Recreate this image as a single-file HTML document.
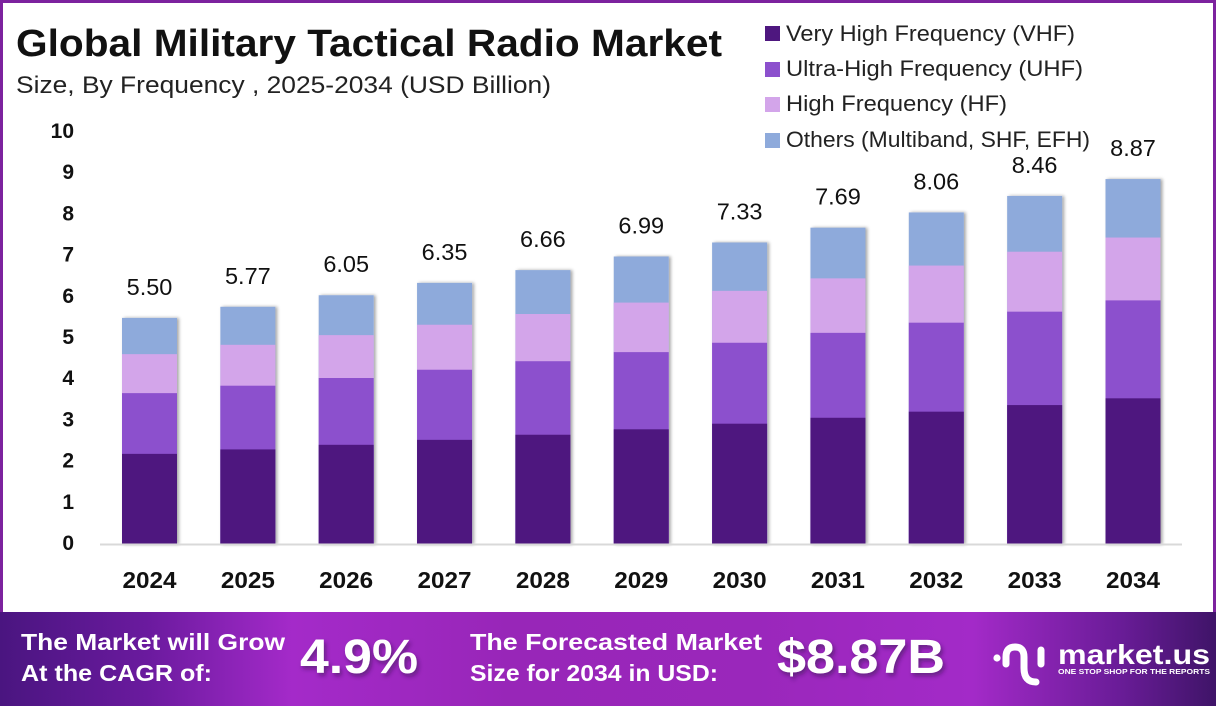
<!DOCTYPE html>
<html><head><meta charset="utf-8"><style>
html,body{margin:0;padding:0;background:#fff;}
svg{display:block;}
</style></head><body>
<svg width="1216" height="706" viewBox="0 0 1216 706" xmlns="http://www.w3.org/2000/svg">
<defs>
<filter id="sh" x="-20%" y="-5%" width="140%" height="110%">
<feDropShadow dx="2" dy="0" stdDeviation="1.6" flood-color="#000" flood-opacity="0.35"/>
</filter>
<filter id="tsh" x="-10%" y="-20%" width="130%" height="150%">
<feDropShadow dx="2" dy="3" stdDeviation="2" flood-color="#2a0a40" flood-opacity="0.5"/>
</filter>
<linearGradient id="ban" x1="0" y1="0" x2="1" y2="0">
<stop offset="0" stop-color="#4a1580"/>
<stop offset="0.12" stop-color="#6a1a9e"/>
<stop offset="0.24" stop-color="#a42ac9"/>
<stop offset="0.42" stop-color="#9826b8"/>
<stop offset="0.62" stop-color="#9a27bb"/>
<stop offset="0.80" stop-color="#a32ac8"/>
<stop offset="0.92" stop-color="#6a1c98"/>
<stop offset="1" stop-color="#3f1468"/>
</linearGradient>
</defs>
<rect x="0" y="0" width="1216" height="706" fill="#fff"/>
<!-- frame -->
<rect x="0" y="0" width="1216" height="3" fill="#7c229e"/>
<rect x="0" y="0" width="3" height="612" fill="#7c229e"/>
<rect x="1213" y="0" width="3" height="612" fill="#7c229e"/>

<!-- title -->
<text x="16" y="56" font-family="Liberation Sans, sans-serif" font-weight="bold" font-size="38" fill="#111" textLength="706" lengthAdjust="spacingAndGlyphs">Global Military Tactical Radio Market</text>
<text x="16" y="93" font-family="Liberation Sans, sans-serif" font-size="24" fill="#222" textLength="535" lengthAdjust="spacingAndGlyphs">Size, By Frequency , 2025-2034 (USD Billion)</text>

<!-- legend -->
<g font-family="Liberation Sans, sans-serif" font-size="22" fill="#222">
<rect x="765" y="26" width="15" height="15" fill="#4e177f"/>
<text x="786" y="41" textLength="289" lengthAdjust="spacingAndGlyphs">Very High Frequency (VHF)</text>
<rect x="765" y="62" width="15" height="15" fill="#8c50cd"/>
<text x="786" y="76" textLength="297" lengthAdjust="spacingAndGlyphs">Ultra-High Frequency (UHF)</text>
<rect x="765" y="97" width="15" height="15" fill="#d3a5ea"/>
<text x="786" y="111" textLength="221" lengthAdjust="spacingAndGlyphs">High Frequency (HF)</text>
<rect x="765" y="133" width="15" height="15" fill="#8eaadb"/>
<text x="786" y="147" textLength="304" lengthAdjust="spacingAndGlyphs">Others (Multiband, SHF, EFH)</text>
</g>

<!-- y axis labels -->
<g font-family="Liberation Sans, sans-serif" font-weight="bold" font-size="21" fill="#111" text-anchor="end">
<text x="74" y="138">10</text>
<text x="74" y="179.2">9</text>
<text x="74" y="220.4">8</text>
<text x="74" y="261.6">7</text>
<text x="74" y="302.8">6</text>
<text x="74" y="344">5</text>
<text x="74" y="385.2">4</text>
<text x="74" y="426.4">3</text>
<text x="74" y="467.6">2</text>
<text x="74" y="508.8">1</text>
<text x="74" y="550">0</text>
</g>

<!-- bars -->
<g>
<g><rect x="122" y="317.9" width="55" height="226.6" fill="#8eaadb" filter="url(#sh)"/><rect x="122" y="354.16" width="55" height="190.34" fill="#d3a5ea"/><rect x="122" y="393.13" width="55" height="151.37" fill="#8c50cd"/><rect x="122" y="453.86" width="55" height="90.64" fill="#4e177f"/></g>
<g><rect x="220.35" y="306.78" width="55" height="237.72" fill="#8eaadb" filter="url(#sh)"/><rect x="220.35" y="344.81" width="55" height="199.69" fill="#d3a5ea"/><rect x="220.35" y="385.7" width="55" height="158.8" fill="#8c50cd"/><rect x="220.35" y="449.41" width="55" height="95.09" fill="#4e177f"/></g>
<g><rect x="318.7" y="295.24" width="55" height="249.26" fill="#8eaadb" filter="url(#sh)"/><rect x="318.7" y="335.12" width="55" height="209.38" fill="#d3a5ea"/><rect x="318.7" y="378" width="55" height="166.5" fill="#8c50cd"/><rect x="318.7" y="444.8" width="55" height="99.7" fill="#4e177f"/></g>
<g><rect x="417.05" y="282.88" width="55" height="261.62" fill="#8eaadb" filter="url(#sh)"/><rect x="417.05" y="324.74" width="55" height="219.76" fill="#d3a5ea"/><rect x="417.05" y="369.74" width="55" height="174.76" fill="#8c50cd"/><rect x="417.05" y="439.85" width="55" height="104.65" fill="#4e177f"/></g>
<g><rect x="515.4" y="270.11" width="55" height="274.39" fill="#8eaadb" filter="url(#sh)"/><rect x="515.4" y="314.01" width="55" height="230.49" fill="#d3a5ea"/><rect x="515.4" y="361.21" width="55" height="183.29" fill="#8c50cd"/><rect x="515.4" y="434.74" width="55" height="109.76" fill="#4e177f"/></g>
<g><rect x="613.75" y="256.51" width="55" height="287.99" fill="#8eaadb" filter="url(#sh)"/><rect x="613.75" y="302.59" width="55" height="241.91" fill="#d3a5ea"/><rect x="613.75" y="352.12" width="55" height="192.38" fill="#8c50cd"/><rect x="613.75" y="429.3" width="55" height="115.2" fill="#4e177f"/></g>
<g><rect x="712.1" y="242.5" width="55" height="302" fill="#8eaadb" filter="url(#sh)"/><rect x="712.1" y="290.82" width="55" height="253.68" fill="#d3a5ea"/><rect x="712.1" y="342.76" width="55" height="201.74" fill="#8c50cd"/><rect x="712.1" y="423.7" width="55" height="120.8" fill="#4e177f"/></g>
<g><rect x="810.45" y="227.67" width="55" height="316.83" fill="#8eaadb" filter="url(#sh)"/><rect x="810.45" y="278.36" width="55" height="266.14" fill="#d3a5ea"/><rect x="810.45" y="332.86" width="55" height="211.64" fill="#8c50cd"/><rect x="810.45" y="417.77" width="55" height="126.73" fill="#4e177f"/></g>
<g><rect x="908.8" y="212.43" width="55" height="332.07" fill="#8eaadb" filter="url(#sh)"/><rect x="908.8" y="265.56" width="55" height="278.94" fill="#d3a5ea"/><rect x="908.8" y="322.68" width="55" height="221.82" fill="#8c50cd"/><rect x="908.8" y="411.67" width="55" height="132.83" fill="#4e177f"/></g>
<g><rect x="1007.15" y="195.95" width="55" height="348.55" fill="#8eaadb" filter="url(#sh)"/><rect x="1007.15" y="251.72" width="55" height="292.78" fill="#d3a5ea"/><rect x="1007.15" y="311.67" width="55" height="232.83" fill="#8c50cd"/><rect x="1007.15" y="405.08" width="55" height="139.42" fill="#4e177f"/></g>
<g><rect x="1105.5" y="179.06" width="55" height="365.44" fill="#8eaadb" filter="url(#sh)"/><rect x="1105.5" y="237.53" width="55" height="306.97" fill="#d3a5ea"/><rect x="1105.5" y="300.39" width="55" height="244.11" fill="#8c50cd"/><rect x="1105.5" y="398.32" width="55" height="146.18" fill="#4e177f"/></g>
</g>

<!-- baseline -->
<rect x="100" y="543.5" width="1082" height="2" fill="#d9d9d9"/>

<!-- value labels -->
<g font-family="Liberation Sans, sans-serif" font-size="23.5" fill="#111" text-anchor="middle">
<text x="149.5" y="295">5.50</text>
<text x="247.85" y="284">5.77</text>
<text x="346.2" y="272.2">6.05</text>
<text x="444.55" y="259.9">6.35</text>
<text x="542.9" y="247.1">6.66</text>
<text x="641.25" y="233.5">6.99</text>
<text x="739.6" y="219.5">7.33</text>
<text x="837.95" y="204.7">7.69</text>
<text x="936.3" y="189.4">8.06</text>
<text x="1034.65" y="173">8.46</text>
<text x="1133" y="156.1">8.87</text>
</g>

<!-- x labels -->
<g font-family="Liberation Sans, sans-serif" font-weight="bold" font-size="23" fill="#111" text-anchor="middle">
<text x="149.5" y="588" textLength="54" lengthAdjust="spacingAndGlyphs">2024</text>
<text x="247.85" y="588" textLength="54" lengthAdjust="spacingAndGlyphs">2025</text>
<text x="346.2" y="588" textLength="54" lengthAdjust="spacingAndGlyphs">2026</text>
<text x="444.55" y="588" textLength="54" lengthAdjust="spacingAndGlyphs">2027</text>
<text x="542.9" y="588" textLength="54" lengthAdjust="spacingAndGlyphs">2028</text>
<text x="641.25" y="588" textLength="54" lengthAdjust="spacingAndGlyphs">2029</text>
<text x="739.6" y="588" textLength="54" lengthAdjust="spacingAndGlyphs">2030</text>
<text x="837.95" y="588" textLength="54" lengthAdjust="spacingAndGlyphs">2031</text>
<text x="936.3" y="588" textLength="54" lengthAdjust="spacingAndGlyphs">2032</text>
<text x="1034.65" y="588" textLength="54" lengthAdjust="spacingAndGlyphs">2033</text>
<text x="1133" y="588" textLength="54" lengthAdjust="spacingAndGlyphs">2034</text>
</g>

<!-- banner -->
<rect x="0" y="612" width="1216" height="94" fill="url(#ban)"/>
<g font-family="Liberation Sans, sans-serif" font-weight="bold" fill="#fff">
<text x="21" y="650" font-size="23" textLength="264" lengthAdjust="spacingAndGlyphs">The Market will Grow</text>
<text x="21" y="681" font-size="23" textLength="191" lengthAdjust="spacingAndGlyphs">At the CAGR of:</text>
<text x="300" y="673" font-size="48" textLength="118" lengthAdjust="spacingAndGlyphs" filter="url(#tsh)">4.9%</text>
<text x="470" y="650" font-size="23" textLength="292" lengthAdjust="spacingAndGlyphs">The Forecasted Market</text>
<text x="470" y="681" font-size="23" textLength="248" lengthAdjust="spacingAndGlyphs">Size for 2034 in USD:</text>
<text x="777" y="673" font-size="48" textLength="168" lengthAdjust="spacingAndGlyphs" filter="url(#tsh)">$8.87B</text>
</g>

<!-- logo -->
<g fill="none" stroke="#fff" stroke-linecap="round" stroke-width="7">
<path d="M1006 664 L1006 657 Q1006 647 1015 647 Q1024 647 1024 657 L1024 668 Q1024 682 1036 682"/>
<path d="M1041 650 L1041 664"/>
</g>
<circle cx="997" cy="658" r="3.6" fill="#fff"/>
<text x="1058" y="664" font-family="Liberation Sans, sans-serif" font-weight="bold" font-size="28" fill="#fff" textLength="152" lengthAdjust="spacingAndGlyphs">market.us</text>
<text x="1058" y="674" font-family="Liberation Sans, sans-serif" font-weight="bold" font-size="7" fill="#fff" textLength="152" lengthAdjust="spacingAndGlyphs">ONE STOP SHOP FOR THE REPORTS</text>
</svg>
</body></html>
